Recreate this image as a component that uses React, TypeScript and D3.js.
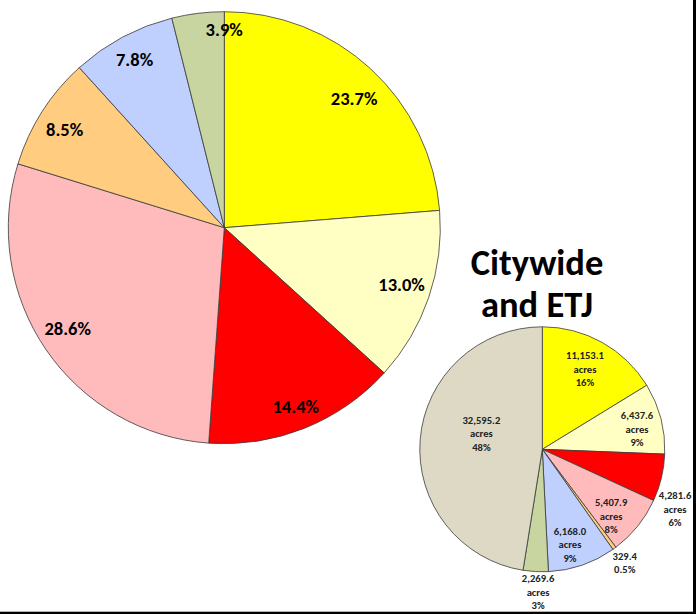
import React, { useEffect, useRef } from "react";
import * as d3 from "d3";

// big pie: share of land use (percent), clockwise from 12 o'clock
const bigShares = [23.7, 13.0, 14.4, 28.6, 8.5, 7.8, 3.9];
const bigLabels = ["23.7%", "13.0%", "14.4%", "28.6%", "8.5%", "7.8%", "3.9%"];

// small pie: citywide and ETJ acres
const cityAcres = [11153.1, 6437.6, 4281.6, 5407.9, 329.4, 6168.0, 2269.6, 32595.2];
const cityAcreLabels = ["11,153.1", "6,437.6", "4,281.6", "5,407.9", "329.4", "6,168.0", "2,269.6", "32,595.2"];
const cityPctLabels = ["16%", "9%", "6%", "8%", "0.5%", "9%", "3%", "48%"];
const cityShowUnit = [true, true, true, true, false, true, true, true];

const sliceColors = ["#FFFF00", "#FFFFC4", "#FF0000", "#FFBBBB", "#FFCC80", "#BFD0FF", "#C8D5A0", "#DDD9C4"];

// label placement (radius factor, angle nudge in degrees) - like excel best fit
const bigLabelPos = [
  [0.847, 2.5], [0.861, -1.2], [0.891, 0], [0.861, 1.7], [0.869, -0.8], [0.882, 0], [0.919, 7],
];
const cityLabelPos = [
  [0.743, -1.3], [0.791, 2.5], [1.188, 10.7], [0.781, 5.1], [1.143, 0], [0.808, 2.8], [1.163, -1.4], [0.514, 10.2],
];

const W = 696;
const H = 614;
const FONT = "Carlito, Calibri, Lato, 'Open Sans', sans-serif";

const App = () => {
  const ref = useRef<SVGSVGElement>(null);

  useEffect(() => {
    const svg = d3.select(ref.current);
    svg.selectAll("*").remove();

    const pie = d3.pie<number>().sort(null).value((d) => d);

    const drawPie = (values, cx, cy, r) => {
      const arc = d3.arc<d3.PieArcDatum<number>>().innerRadius(0).outerRadius(r);
      const g = svg.append("g").attr("transform", `translate(${cx},${cy})`);
      const arcs = pie(values);
      g.selectAll("path")
        .data(arcs)
        .enter()
        .append("path")
        .attr("d", arc)
        .attr("fill", (d, i) => sliceColors[i])
        .attr("stroke", "#3a3a3a")
        .attr("stroke-width", 0.8)
        .attr("stroke-linejoin", "round");
      return arcs;
    };

    const spot = (d, cx, cy, r, pos) => {
      const a = (d.startAngle + d.endAngle) / 2 + (pos[1] * Math.PI) / 180;
      return [cx + r * pos[0] * Math.sin(a), cy - r * pos[0] * Math.cos(a)];
    };

    // big pie
    const bcx = 224.3, bcy = 227.7, br = 216;
    const bigArcs = drawPie(bigShares, bcx, bcy, br);
    bigArcs.forEach((d, i) => {
      const [x, y] = spot(d, bcx, bcy, br, bigLabelPos[i]);
      svg.append("text")
        .attr("x", x)
        .attr("y", y)
        .attr("dy", "0.36em")
        .attr("text-anchor", "middle")
        .style("font-family", FONT)
        .style("font-weight", "bold")
        .style("font-size", "18.5px")
        .attr("fill", "#000")
        .text(bigLabels[i]);
    });

    // title
    const title = svg.append("text")
      .attr("text-anchor", "middle")
      .style("font-family", FONT)
      .style("font-weight", "bold")
      .style("font-size", "36.5px")
      .attr("fill", "#000");
    title.append("tspan").attr("x", 537).attr("y", 275).text("Citywide");
    title.append("tspan").attr("x", 537).attr("y", 316.7).text("and ETJ");

    // small pie
    const scx = 542.3, scy = 449.3, sr = 122.5;
    const cityArcs = drawPie(cityAcres, scx, scy, sr);
    cityArcs.forEach((d, i) => {
      const [x, y] = spot(d, scx, scy, sr, cityLabelPos[i]);
      const lines = cityShowUnit[i]
        ? [cityAcreLabels[i], "acres", cityPctLabels[i]]
        : [cityAcreLabels[i], cityPctLabels[i]];
      const t = svg.append("text")
        .attr("text-anchor", "middle")
        .style("font-family", FONT)
        .style("font-weight", "bold")
        .style("font-size", "10.6px")
        .attr("fill", "#222");
      lines.forEach((s, j) => {
        t.append("tspan")
          .attr("x", x)
          .attr("y", y + (j - (lines.length - 1) / 2) * 13.4)
          .attr("dy", "0.36em")
          .text(s);
      });
    });

    // frame edges on right and bottom
    svg.append("rect").attr("x", 693).attr("y", 0).attr("width", 3).attr("height", H).attr("fill", "#000");
    svg.append("rect").attr("x", 0).attr("y", 611.7).attr("width", W).attr("height", 2.3).attr("fill", "#000");
  }, []);

  return (
    <svg
      ref={ref}
      width={W}
      height={H}
      style={{ position: "absolute", left: 0, top: 0, background: "#fff" }}
    ></svg>
  );
};

export default App;
